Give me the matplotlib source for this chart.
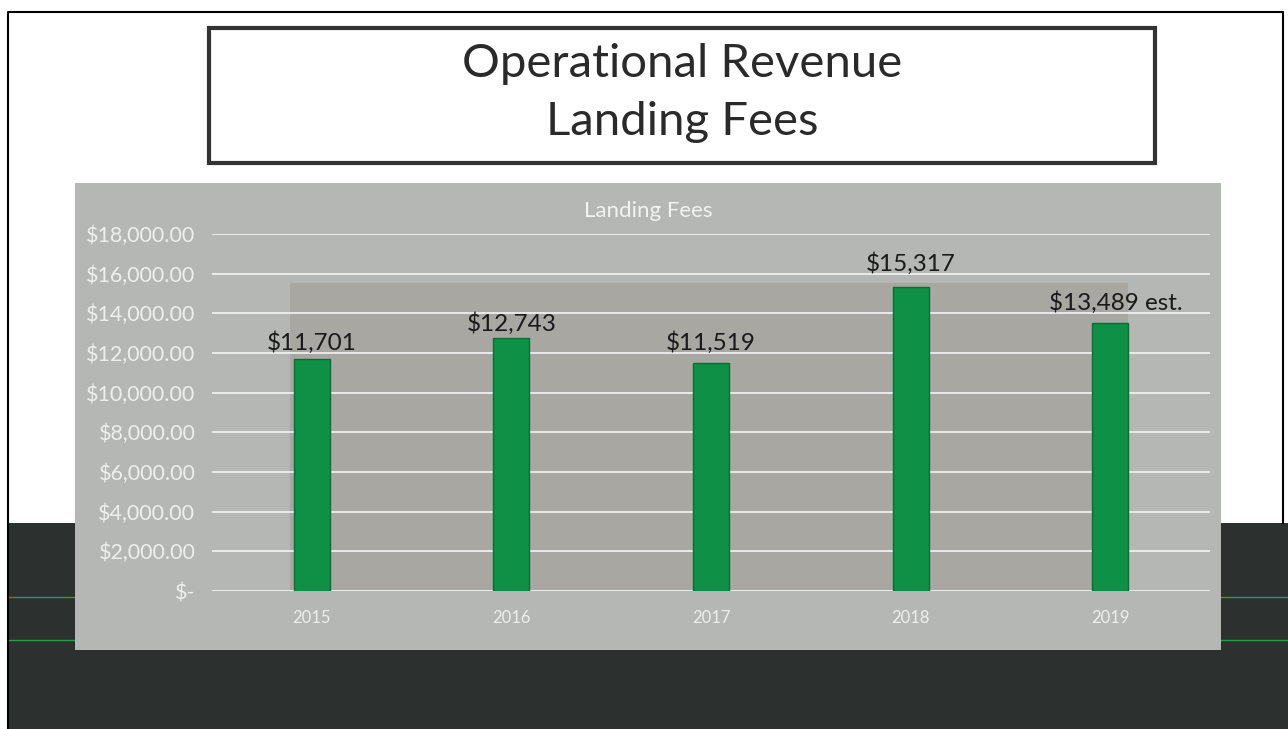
import numpy as np
import matplotlib.pyplot as plt
from matplotlib.patches import Rectangle
from matplotlib.ticker import FuncFormatter

years = ["2015", "2016", "2017", "2018", "2019"]
fees = [11701, 12743, 11519, 15317, 13489]
bar_labels = ["$11,701", "$12,743", "$11,519", "$15,317", "$13,489 est."]

W, H = 1288, 729
plt.rcParams['font.family'] = ['Lato', 'DejaVu Sans']

fig = plt.figure(figsize=(W / 100, H / 100), dpi=100)
fig.patch.set_facecolor("white")


def px(x0, y0, w, h):
    # pixel box (top-left origin) -> figure fraction
    return (x0 / W, 1 - (y0 + h) / H, w / W, h / H)


def box(x0, y0, w, h, **kw):
    l, b, ww, hh = px(x0, y0, w, h)
    fig.patches.append(Rectangle((l, b), ww, hh, transform=fig.transFigure, **kw))


# dark lower band of the slide
box(8, 523, 1280, 206, facecolor="#2c302e", edgecolor="none", zorder=0)
for yy in (597, 640):
    fig.add_artist(plt.Line2D([8 / W, 1], [1 - yy / H] * 2, transform=fig.transFigure,
                              color="#22a046", lw=1, zorder=0.5))

# slide border
fig.add_artist(plt.Line2D([8 / W, 8 / W, 1283 / W, 1283 / W], [0, 1 - 12 / H, 1 - 12 / H, 1 - 523 / H],
                          transform=fig.transFigure, color="black", lw=1.5, zorder=1))

# title box
box(209, 28, 946, 135, facecolor="white", edgecolor="#333333", lw=3, zorder=1)
fig.text(682 / W, 1 - 64 / H, "Operational Revenue", ha="center", va="center",
         fontsize=34, color="#2a2a2a")
fig.text(682 / W, 1 - 122 / H, "Landing Fees", ha="center", va="center",
         fontsize=34, color="#2a2a2a")

# chart panel
box(75, 183, 1146, 467, facecolor="#b5b7b4", edgecolor="none", zorder=1)
box(290, 283, 838, 307, facecolor="#a8a7a2", edgecolor="none", zorder=1.2)
fig.text(648 / W, 1 - 211 / H, "Landing Fees", ha="center", va="center",
         fontsize=16, color="#f2f2f2", zorder=3)

ax = fig.add_axes(px(212, 234, 998, 357))
ax.set_zorder(2)
ax.patch.set_alpha(0)
x = np.arange(len(years))
ax.bar(x, fees, width=0.18, color="#0e9146", edgecolor="#0a6e34", lw=1, zorder=3)
ax.set_xlim(-0.5, len(years) - 0.5)
ax.set_ylim(0, 18000)
ax.set_yticks(np.arange(0, 18001, 2000))
ax.yaxis.set_major_formatter(FuncFormatter(lambda v, p: "$-" if v == 0 else f"${v:,.2f}"))
ax.set_xticks(x)
ax.set_xticklabels(years)
ax.grid(axis="y", color="#f4f4f4", lw=1.2, zorder=1)
ax.set_axisbelow(True)
for s in ax.spines.values():
    s.set_visible(False)
ax.tick_params(length=0, colors="#eeeeee")
ax.tick_params(axis="y", labelsize=15.5, pad=12)
ax.tick_params(axis="x", labelsize=12, pad=14)

label_y = [11950, 12900, 11950, 15950, 13950]
for xi, ly, t in zip(x, label_y, bar_labels):
    ax.text(xi + 0.03 * (xi == 4), ly, t, ha="center", va="bottom",
            fontsize=17.5, color="#1a1a1a", zorder=4)

fig.savefig("out.png", dpi=100)
